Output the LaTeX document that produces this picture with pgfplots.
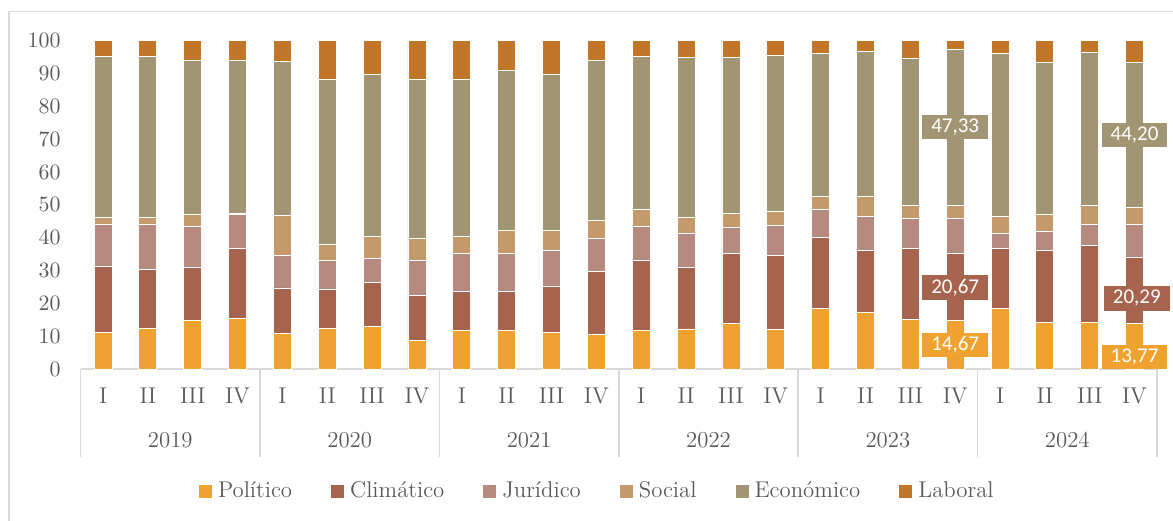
\documentclass[border=0pt]{standalone}
\usepackage{fontspec}
\usepackage{pgfplots}
\usepackage{pgfplotstable}
\pgfplotsset{compat=1.18}
\newfontfamily\carlito{Carlito}
\definecolor{cPol}{HTML}{EFA22F}
\definecolor{cCli}{HTML}{A6644E}
\definecolor{cJur}{HTML}{B68A7E}
\definecolor{cSoc}{HTML}{C4996B}
\definecolor{cEco}{HTML}{A19573}
\definecolor{cLab}{HTML}{C17629}
\definecolor{textgray}{HTML}{595959}
\definecolor{linegray}{HTML}{D9D9D9}

\pgfplotstableread{
x P C J S E L
0 11.1 20.3 12.5 2.4 48.9 4.8
1 12.3 18.0 13.6 2.4 48.9 4.8
2 14.7 16.1 12.5 3.8 46.9 6.0
3 15.3 21.4 10.3 0.5 46.5 6.0
4 10.8 13.9 9.8 12.2 47.0 6.3
5 12.3 11.9 8.9 4.8 50.3 11.8
6 13.0 13.4 7.3 6.6 49.5 10.2
7 8.7 13.6 10.9 6.5 48.5 11.8
8 11.7 12.0 11.4 5.2 47.9 11.8
9 11.7 12.0 11.4 7.1 48.8 9.0
10 11.1 14.2 10.9 6.0 47.6 10.2
11 10.6 19.0 10.1 5.5 48.8 6.0
12 11.7 21.5 10.1 5.4 46.5 4.8
13 12.2 18.6 10.5 4.8 48.9 5.0
14 14.0 21.1 8.0 4.4 47.5 5.0
15 12.0 22.5 9.1 4.4 47.5 4.5
16 18.5 21.7 8.4 4.0 43.5 3.9
17 17.2 18.8 10.4 6.2 44.1 3.3
18 15.1 21.5 9.2 4.1 44.7 5.4
19 14.67 20.67 10.5 4.1 47.33 2.73
20 18.5 18.1 4.7 5.2 49.6 3.9
21 14.2 21.8 5.9 5.2 46.3 6.6
22 14.2 23.3 6.5 5.9 46.5 3.6
23 13.77 20.29 9.94 5.2 44.2 6.6
}\datatable

\pgfplotsset{
  sqleg/.style={legend image code/.code={\fill[##1,draw=none] (0pt,-3.25pt) rectangle (6.5pt,3.25pt);}},
  barsty/.style={fill=#1, draw=white, line width=0.4pt, sqleg},
}
\tikzset{
  lbl/.style={fill=#1, text=white, font=\carlito\fontsize{10.5}{12}\selectfont, inner xsep=4.5pt, inner ysep=2pt, minimum height=11pt},
  sep/.style={linegray, line width=0.75pt},
  yr/.style={text=textgray, yshift=-35.5pt},
}

\begin{document}
\begin{tikzpicture}
\useasboundingbox (0,0) rectangle (586.5pt,-260pt);
\draw[linegray, line width=0.75pt] (4.5pt,-262pt) -- (4.5pt,-5.75pt) -- (590pt,-5.75pt);
\begin{axis}[
  at={(40.3pt,-184.5pt)}, anchor=south west,
  scale only axis, width=538.2pt, height=164.15pt,
  xmin=-0.5, xmax=23.5, ymin=0, ymax=100,
  ybar stacked, bar width=9pt,
  clip=false,
  axis line style={draw=none},
  major tick length=0pt,
  ytick={0,10,...,100},
  xtick={0,...,23},
  xticklabels={I,II,III,IV,I,II,III,IV,I,II,III,IV,I,II,III,IV,I,II,III,IV,I,II,III,IV},
  font=\fontsize{11.4}{13.7}\selectfont,
  tick label style={text=textgray},
  yticklabel style={anchor=east, xshift=-6.5pt},
  xticklabel style={anchor=center, yshift=-13.5pt},
  legend columns=6,
  legend style={draw=none, fill=none, at={(0.481,-0.3716)}, anchor=center,
    font=\fontsize{11.4}{13.7}\selectfont, text=textgray,
    /tikz/every even column/.append style={column sep=17.5pt},
    /tikz/every odd column/.append style={column sep=1pt}},
]
\addplot[barsty=cPol] table[x=x,y=P]{\datatable};
\addlegendentry{Político}
\addplot[barsty=cCli] table[x=x,y=C]{\datatable};
\addlegendentry{Climático}
\addplot[barsty=cJur] table[x=x,y=J]{\datatable};
\addlegendentry{Jurídico}
\addplot[barsty=cSoc] table[x=x,y=S]{\datatable};
\addlegendentry{Social}
\addplot[barsty=cEco] table[x=x,y=E]{\datatable};
\addlegendentry{Económico}
\addplot[barsty=cLab] table[x=x,y=L]{\datatable};
\addlegendentry{Laboral}

\draw[sep] (axis cs:-0.5,0) -- (axis cs:23.5,0);
\draw[sep] (axis cs:-0.5,0) -- ([yshift=-44pt]axis cs:-0.5,0);
\draw[sep] (axis cs:3.5,0) -- ([yshift=-44pt]axis cs:3.5,0);
\draw[sep] (axis cs:7.5,0) -- ([yshift=-44pt]axis cs:7.5,0);
\draw[sep] (axis cs:11.5,0) -- ([yshift=-44pt]axis cs:11.5,0);
\draw[sep] (axis cs:15.5,0) -- ([yshift=-44pt]axis cs:15.5,0);
\draw[sep] (axis cs:19.5,0) -- ([yshift=-44pt]axis cs:19.5,0);
\draw[sep] (axis cs:23.5,0) -- ([yshift=-44pt]axis cs:23.5,0);
\node[yr] at (axis cs:1.5,0) {2019};
\node[yr] at (axis cs:5.5,0) {2020};
\node[yr] at (axis cs:9.5,0) {2021};
\node[yr] at (axis cs:13.5,0) {2022};
\node[yr] at (axis cs:17.5,0) {2023};
\node[yr] at (axis cs:21.5,0) {2024};
\coordinate (l1) at (axis cs:19,73.65);
\coordinate (l2) at (axis cs:19,24.9);
\coordinate (l3) at (axis cs:19,7.3);
\coordinate (l4) at (axis cs:23,71.3);
\coordinate (l5) at (axis cs:23.05,21.5);
\coordinate (l6) at (axis cs:23,3.6);
\end{axis}
\node[lbl=cEco] at (l1) {47,33};
\node[lbl=cCli] at (l2) {20,67};
\node[lbl=cPol] at (l3) {14,67};
\node[lbl=cEco] at (l4) {44,20};
\node[lbl=cCli] at (l5) {20,29};
\node[lbl=cPol] at (l6) {13,77};
\end{tikzpicture}
\end{document}
